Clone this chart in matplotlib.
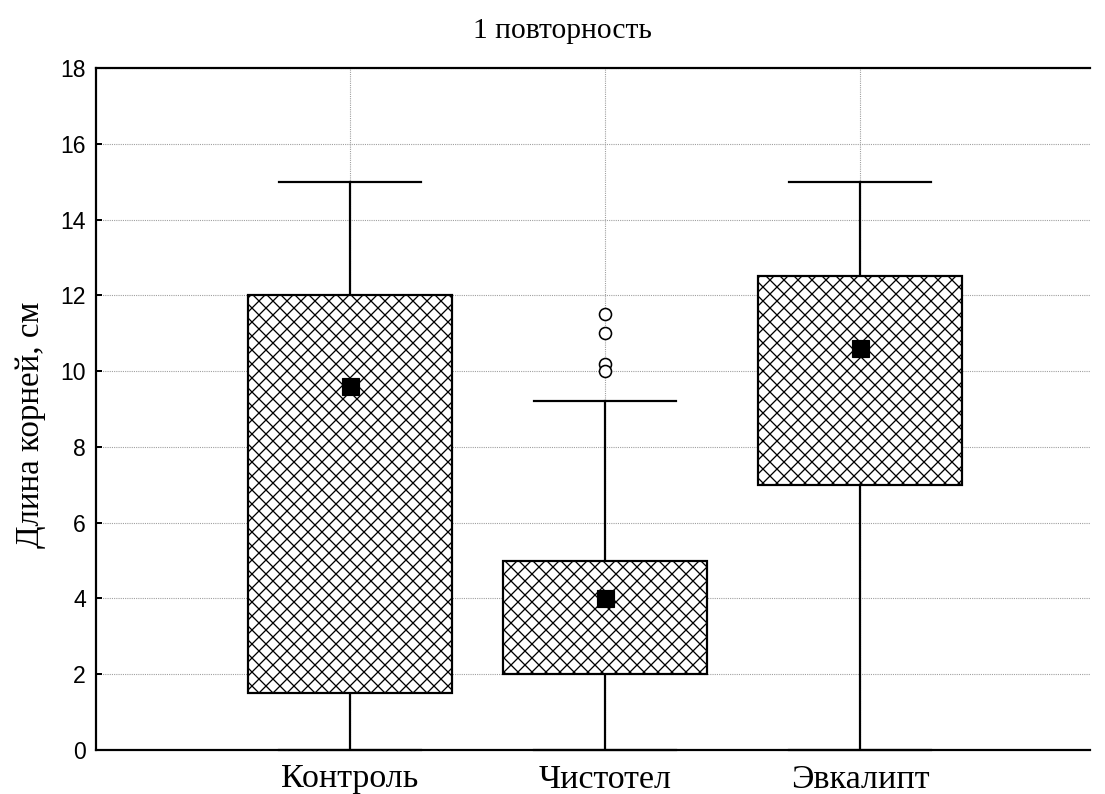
import matplotlib
matplotlib.use("Agg")
import matplotlib.pyplot as plt

categories = ["Контроль", "Чистотел", "Эвкалипт"]
medians = [9.6, 4.0, 10.6]
q1 = [1.5, 2.0, 7.0]
q3 = [12.0, 5.0, 12.5]
whisk_low = [0.0, 0.0, 0.0]
whisk_high = [15.0, 9.2, 15.0]
outliers = [[], [11.5, 11.0, 10.2, 10.0], []]
yticks = [0, 2, 4, 6, 8, 10, 12, 14, 16, 18]

DPI = 84
def px(p):
    return p * 72.0 / DPI

plt.rcParams['hatch.linewidth'] = px(1.3)
plt.rcParams['hatch.color'] = 'black'

fig = plt.figure(figsize=(1105 / DPI, 794 / DPI), dpi=DPI)
ax = fig.add_axes([96/1105, 1-750/794, (1090-96)/1105, (750-68)/794])

stats = []
for i, c in enumerate(categories):
    stats.append(dict(label=c, med=medians[i], q1=q1[i], q3=q3[i],
                      whislo=whisk_low[i], whishi=whisk_high[i],
                      fliers=outliers[i], mean=medians[i]))

positions = [1, 2, 3]
lw = px(2.2)
bp = ax.bxp(stats, positions=positions, widths=0.8, patch_artist=True,
            showmeans=True, showfliers=True,
            boxprops=dict(facecolor='white', edgecolor='black', linewidth=lw, hatch='xx'),
            whiskerprops=dict(color='black', linewidth=lw),
            capprops=dict(color='black', linewidth=lw),
            capwidths=0.56,
            medianprops=dict(visible=False),
            meanprops=dict(marker='s', markerfacecolor='black', markeredgecolor='black',
                           markersize=px(17)),
            flierprops=dict(marker='o', markerfacecolor='white', markeredgecolor='black',
                            markersize=px(12), markeredgewidth=px(1.6)))
for w in bp['whiskers']:
    w.set_zorder(1)
for c in bp['caps']:
    c.set_zorder(3)
    c.set_clip_on(False)

ax.set_xlim(0.004, 3.902)
ax.set_ylim(0, 18)
ax.set_yticks(yticks)
ax.set_xticks(positions)
ax.set_xticklabels(categories, fontfamily='Liberation Serif', fontsize=px(34))
for lab in ax.get_yticklabels():
    lab.set_fontfamily('Liberation Sans')
    lab.set_fontsize(px(23))
ax.tick_params(axis='y', direction='in', length=px(6), width=px(2), pad=px(10))
ax.tick_params(axis='x', length=0, pad=px(14))

ax.grid(True, linestyle=(0, (1, 1)), color='#a0a0a0', linewidth=px(1.1))
ax.set_axisbelow(True)

ax.spines['right'].set_visible(False)
for s in ['left', 'bottom', 'top']:
    ax.spines[s].set_linewidth(px(2.2))

fig.text(562/1105, 1 - 31/794, "1 повторность", fontfamily='Liberation Serif',
         fontsize=px(29.5), ha='center', va='center')
ax.set_ylabel("Длина корней, см", fontfamily='Liberation Serif', fontsize=px(33),
              labelpad=px(14))
ax.yaxis.label.set_y((750 - 425) / 682)

fig.savefig("out.png", dpi=DPI)
